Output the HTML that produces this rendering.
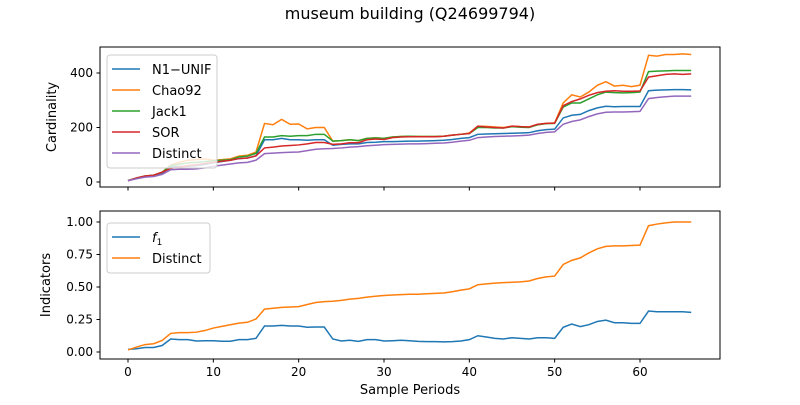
<!DOCTYPE html>
<html><head><meta charset="utf-8"><style>
body{margin:0;background:#fff;font-family:"Liberation Sans","DejaVu Sans",sans-serif}
svg text{font-family:"DejaVu Sans","Liberation Sans",sans-serif}
</style></head><body>
<svg id="c" width="800" height="400" xmlns="http://www.w3.org/2000/svg">
<rect width="800" height="400" fill="#fff"/>
<text x="410" y="19" font-size="16" text-anchor="middle">museum building (Q24699794)</text>
</svg>
<script>
const distinct=[5,12,18,20,28,45,47,47,48,52,58,62,66,70,72,80,104,106,108,109,110,115,120,122,123,125,128,130,133,135,137,138,139,140,140,141,142,143,146,150,153,163,165,167,168,169,170,172,178,182,184,212,222,228,240,250,256,257,257,258,259,306,310,313,315,315,315];
const n1unif=[5,13,20,22,32,55,57,58,60,64,70,75,80,86,88,96,155,155,160,155,155,153,155,155,135,138,140,140,145,146,148,148,149,150,150,151,152,153,156,160,163,175,176,177,178,179,180,181,188,192,194,235,245,248,262,272,278,276,277,277,277,335,337,338,339,339,338];
const chao92=[5,15,22,25,36,62,72,80,82,85,80,82,85,95,98,110,215,210,230,212,213,195,200,200,150,152,155,152,160,162,160,165,167,168,167,167,167,168,172,175,180,205,204,202,200,205,203,202,210,215,217,290,320,312,330,355,368,352,355,350,355,465,462,468,468,470,468];
const jack1=[5,15,22,25,36,60,65,70,72,75,78,80,82,92,95,105,165,165,170,168,170,170,175,175,150,152,155,152,160,162,160,165,167,168,167,167,167,168,172,175,178,200,200,198,198,203,201,200,210,214,215,275,290,290,305,320,330,328,327,328,330,405,407,408,409,409,409];
const sor=[5,15,22,25,36,50,55,60,63,68,72,76,80,86,88,96,125,128,132,134,136,140,145,145,138,140,144,144,155,158,156,163,165,166,166,166,166,168,172,175,178,205,202,200,198,205,203,202,212,215,216,280,295,305,318,328,333,335,333,333,334,385,390,395,397,395,397];
const f1=[0.02,0.025,0.035,0.035,0.05,0.1,0.095,0.095,0.085,0.087,0.087,0.083,0.083,0.095,0.095,0.105,0.2,0.2,0.205,0.2,0.2,0.19,0.192,0.192,0.1,0.085,0.09,0.082,0.095,0.095,0.085,0.087,0.09,0.087,0.082,0.08,0.08,0.078,0.08,0.085,0.095,0.125,0.115,0.105,0.1,0.11,0.105,0.1,0.11,0.11,0.105,0.19,0.215,0.195,0.21,0.235,0.245,0.225,0.225,0.22,0.22,0.315,0.31,0.31,0.31,0.31,0.305];
const xTicks=[0,10,20,30,40,50,60];
const topTicks=[0,200,400];
const botTicks=[0,0.25,0.5,0.75,1.0];
const botTickLabels=["0.00","0.25","0.50","0.75","1.00"];

const svg=document.getElementById('c');
const NS='http://www.w3.org/2000/svg';
function mk(tag,attrs,parent){const e=document.createElementNS(NS,tag);for(const k in attrs)e.setAttribute(k,attrs[k]);(parent||svg).appendChild(e);return e;}
const X=v=>128+v*(512/60);
const Yt=v=>182-v*(109/400);
const Yb=v=>352-v*130;
const distNorm=distinct.map(v=>v/distinct[distinct.length-1]);

function axes(top,bot,name){const r=mk('rect',{x:100,y:top,width:620,height:bot-top,fill:'none',stroke:'#000','stroke-width':1});

}
function line(arr,Y,color,name){const p=mk('polyline',{points:arr.map((v,i)=>X(i)+','+Y(v)).join(' '),fill:'none',stroke:color,'stroke-width':1.5});

}

// top axes
axes(47,187,'top-plot-area');
topTicks.forEach(t=>{mk('line',{x1:96.5,x2:100,y1:Yt(t),y2:Yt(t),stroke:'#000'});const tx=mk('text',{x:93,y:Yt(t)+4,'font-size':12,'text-anchor':'end'});tx.textContent=t;

});
xTicks.forEach(t=>{mk('line',{x1:X(t),x2:X(t),y1:187,y2:190.5,stroke:'#000'});});
const yl1=mk('text',{x:56,y:117,'font-size':13,'text-anchor':'middle',transform:'rotate(-90 56 117)'});yl1.textContent='Cardinality';


line(n1unif,Yt,'#1f77b4','n1unif-line');
line(chao92,Yt,'#ff7f0e','chao92-line');
line(jack1,Yt,'#2ca02c','jack1-line');
line(sor,Yt,'#d62728','sor-line');
line(distinct,Yt,'#9467bd','distinct-line');

// bottom axes
axes(211,359,'bottom-plot-area');
botTicks.forEach((t,i)=>{mk('line',{x1:96.5,x2:100,y1:Yb(t),y2:Yb(t),stroke:'#000'});const tx=mk('text',{x:93,y:Yb(t)+4,'font-size':12,'text-anchor':'end'});tx.textContent=botTickLabels[i];

});
xTicks.forEach(t=>{mk('line',{x1:X(t),x2:X(t),y1:359,y2:362.5,stroke:'#000'});const tx=mk('text',{x:X(t),y:376,'font-size':12,'text-anchor':'middle'});tx.textContent=t;

});
const yl2=mk('text',{x:50,y:285,'font-size':13,'text-anchor':'middle',transform:'rotate(-90 50 285)'});yl2.textContent='Indicators';


const xl=mk('text',{x:410,y:394,'font-size':13,'text-anchor':'middle'});xl.textContent='Sample Periods';


line(f1,Yb,'#1f77b4','f1-line');
line(distNorm,Yb,'#ff7f0e','distinct-ratio-line');

// legends
function legend(x,y,w,items,name){const g=mk('g',{});


mk('rect',{x:x,y:y,width:w,height:items.length*21+8,rx:3,fill:'#fff','fill-opacity':0.8,stroke:'#ccc'},g);
items.forEach((it,i)=>{const cy=y+14+i*21;mk('line',{x1:x+5,x2:x+33,y1:cy,y2:cy,stroke:it[1],'stroke-width':1.5},g);
const t=mk('text',{x:x+45,y:cy+5,'font-size':13},g);t.innerHTML=it[0];

});}
legend(107,55,110,[['N1−UNIF','#1f77b4'],['Chao92','#ff7f0e'],['Jack1','#2ca02c'],['SOR','#d62728'],['Distinct','#9467bd']],'top-legend');
legend(107,223,103,[['<tspan font-style="italic">f</tspan><tspan font-size="9" dy="3">1</tspan>','#1f77b4'],['Distinct','#ff7f0e']],'bottom-legend');
</script>
</body></html>
